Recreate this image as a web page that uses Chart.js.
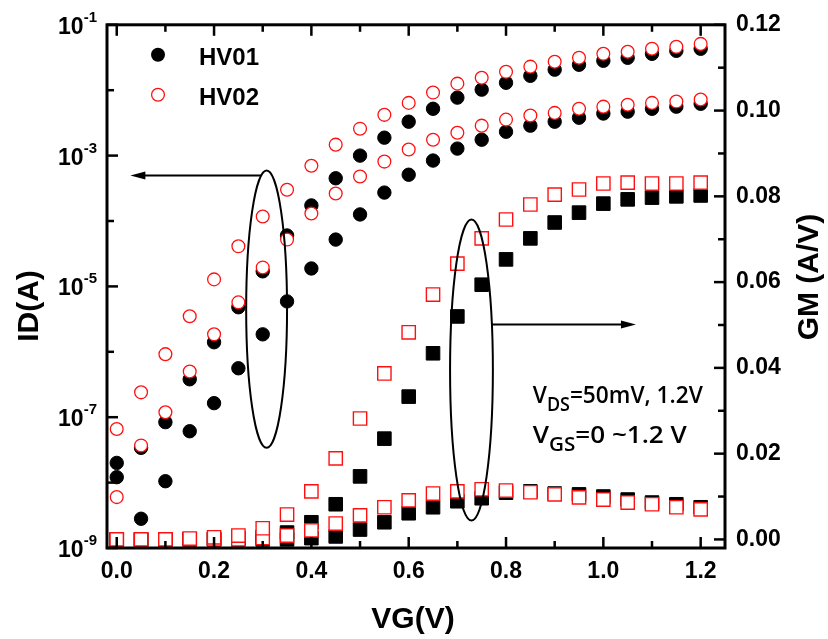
<!DOCTYPE html>
<html>
  <head>
    <title>ID and GM vs VG</title>
    <script src="https://cdn.jsdelivr.net/npm/chart.js"></script>
    <style>
      body { margin: 0; background: #fff; }
      .chart-container { width: 828px; height: 639px; }
    </style>
  </head>
  <body>
    <div class="chart-container">
      <canvas id="myChart"></canvas>
    </div>

    <script>
      // gate voltage sweep
      const vg = [0, 0.05, 0.1, 0.15, 0.2, 0.25, 0.3, 0.35, 0.4, 0.45, 0.5, 0.55, 0.6,
        0.65, 0.7, 0.75, 0.8, 0.85, 0.9, 0.95, 1.0, 1.05, 1.1, 1.15, 1.2];

      // drain current (A), VDS = 1.2V and 50mV
      const idHV01hi = [2.0e-8, 3.4e-8, 8.4e-8, 3.8e-7, 1.4e-6, 4.8e-6, 1.7e-5, 6.0e-5, 1.73e-4,
        4.5e-4, 1.0e-3, 1.88e-3, 3.3e-3, 5.2e-3, 7.7e-3, 1.02e-2, 1.30e-2, 1.66e-2, 2.06e-2,
        2.45e-2, 2.82e-2, 3.13e-2, 3.6e-2, 4.0e-2, 4.3e-2];
      const idHV02hi = [6.6e-8, 2.4e-7, 9.2e-7, 3.5e-6, 1.28e-5, 4.1e-5, 1.17e-4, 3.0e-4, 7.0e-4,
        1.47e-3, 2.58e-3, 4.2e-3, 6.4e-3, 9.2e-3, 1.26e-2, 1.55e-2, 1.91e-2, 2.29e-2, 2.72e-2,
        3.13e-2, 3.6e-2, 3.87e-2, 4.3e-2, 4.6e-2, 5.1e-2];
      const idHV01lo = [1.21e-8, 2.8e-9, 1.05e-8, 6.1e-8, 1.64e-7, 5.6e-7, 1.85e-6, 5.9e-6, 1.88e-5,
        5.2e-5, 1.26e-4, 2.72e-4, 5.1e-4, 8.4e-4, 1.28e-3, 1.75e-3, 2.32e-3, 2.87e-3, 3.3e-3,
        3.8e-3, 4.4e-3, 4.7e-3, 5.2e-3, 5.6e-3, 6.2e-3];
      const idHV02lo = [6.0e-9, 3.7e-8, 1.19e-7, 5.0e-7, 1.85e-6, 5.7e-6, 1.95e-5, 5.2e-5, 1.30e-4,
        2.63e-4, 4.8e-4, 8.1e-4, 1.24e-3, 1.75e-3, 2.24e-3, 2.87e-3, 3.55e-3, 4.1e-3, 4.5e-3,
        5.2e-3, 5.6e-3, 6.0e-3, 6.4e-3, 6.7e-3, 7.2e-3];

      // transconductance (A/V)
      const gmHV01hi = [0, 0, 0, 0, 0.0001, 0.0003, 0.0006, 0.0016, 0.0040, 0.0082, 0.0147, 0.0235,
        0.0333, 0.0434, 0.0520, 0.0594, 0.0653, 0.0702, 0.0739, 0.0762, 0.0783, 0.0793, 0.0797,
        0.0800, 0.0802];
      const gmHV02hi = [0, 0, 0, 0.0002, 0.0005, 0.0009, 0.0026, 0.0058, 0.0112, 0.0189, 0.0282,
        0.0387, 0.0483, 0.0571, 0.0643, 0.0702, 0.0746, 0.0781, 0.0804, 0.0816, 0.0830, 0.0832,
        0.0830, 0.0830, 0.0832];
      const gmHV01lo = [0, 0, 0, 0, 0, 0, 0, 0, 0.0003, 0.0007, 0.0023, 0.0040, 0.0061, 0.0075,
        0.0089, 0.0096, 0.0109, 0.0112, 0.0107, 0.0105, 0.0100, 0.0093, 0.0086, 0.0082, 0.0075];
      const gmHV02lo = [0, 0, 0, 0, 0, 0, 0.0003, 0.0009, 0.0021, 0.0037, 0.0056, 0.0075, 0.0091,
        0.0107, 0.0112, 0.0117, 0.0114, 0.0110, 0.0105, 0.0098, 0.0093, 0.0086, 0.0082, 0.0075,
        0.0070];

      const legendNames = ["HV01", "HV02"];
      const xTicks = [0, 0.2, 0.4, 0.6, 0.8, 1.0, 1.2];
      const xMinor = [0.1, 0.3, 0.5, 0.7, 0.9, 1.1];
      const idTickExp = [-9, -7, -5, -3, -1];
      const idMinorExp = [-8, -6, -4, -2];
      const gmTicks = [0, 0.02, 0.04, 0.06, 0.08, 0.1, 0.12];
      const gmMinor = [0.01, 0.03, 0.05, 0.07, 0.09, 0.11];

      const RED = "#ff1010";
      const bold = (s) => "bold " + s + 'px "Liberation Sans", Arial, sans-serif';
      const noteFont = (s) => "600 " + s + 'px "Open Sans", sans-serif';

      function pts(ys) {
        return vg.map((x, i) => ({ x: x, y: ys[i] }));
      }

      function redCircle(ys) {
        return { data: pts(ys), yAxisID: "yL", pointStyle: "circle", pointRadius: 6.4,
          pointBackgroundColor: "#fff", pointBorderColor: RED, pointBorderWidth: 1.3 };
      }
      function blackCircle(ys) {
        return { data: pts(ys), yAxisID: "yL", pointStyle: "circle", pointRadius: 6.7,
          pointBackgroundColor: "#000", pointBorderColor: "#000", pointBorderWidth: 1 };
      }
      function redSquare(ys) {
        return { data: pts(ys), yAxisID: "yR", pointStyle: "rect", pointRadius: 9.4,
          pointBackgroundColor: "#fff", pointBorderColor: RED, pointBorderWidth: 1.4 };
      }
      function blackSquare(ys) {
        return { data: pts(ys), yAxisID: "yR", pointStyle: "rect", pointRadius: 9.6,
          pointBackgroundColor: "#000", pointBorderColor: "#000", pointBorderWidth: 1 };
      }

      // first dataset ends up on top, so red goes first
      const datasets = [
        redCircle(idHV02hi), redCircle(idHV02lo), redSquare(gmHV02hi), redSquare(gmHV02lo),
        blackCircle(idHV01hi), blackCircle(idHV01lo), blackSquare(gmHV01hi), blackSquare(gmHV01lo),
      ];

      function drawSubText(ctx, x, y, parts, width) {
        const measure = () => {
          let w = 0;
          parts.forEach(([t, sub]) => {
            ctx.font = sub ? noteFont(19) : noteFont(24);
            w += ctx.measureText(t).width;
          });
          return w;
        };
        ctx.save();
        const sx = width / measure();
        ctx.translate(x, y);
        ctx.scale(sx, 1);
        ctx.textAlign = "left";
        ctx.textBaseline = "alphabetic";
        ctx.fillStyle = "#000";
        let cx = 0;
        parts.forEach(([t, sub]) => {
          ctx.font = sub ? noteFont(19) : noteFont(24);
          ctx.fillText(t, cx, sub ? 8 : 0);
          cx += ctx.measureText(t).width;
        });
        ctx.restore();
      }

      function ellipse(ctx, xs, ys, x0, x1, y0, y1) {
        const l = xs.getPixelForValue(x0), r = xs.getPixelForValue(x1);
        const t = ys.getPixelForValue(y0), b = ys.getPixelForValue(y1);
        const e = { cx: (l + r) / 2, cy: (t + b) / 2, rx: (r - l) / 2, ry: (b - t) / 2 };
        ctx.beginPath();
        ctx.ellipse(e.cx, e.cy, e.rx, e.ry, 0, 0, Math.PI * 2);
        ctx.stroke();
        return e;
      }

      function arrow(ctx, e, py, tipX) {
        const dy = (py - e.cy) / e.ry;
        const off = e.rx * Math.sqrt(Math.max(0, 1 - dy * dy));
        const dir = tipX < e.cx ? -1 : 1;
        const sx = e.cx + dir * off;
        ctx.beginPath();
        ctx.moveTo(sx, py);
        ctx.lineTo(tipX - dir * 12, py);
        ctx.stroke();
        ctx.beginPath();
        ctx.moveTo(tipX, py);
        ctx.lineTo(tipX - dir * 15, py - 4);
        ctx.lineTo(tipX - dir * 15, py + 4);
        ctx.closePath();
        ctx.fill();
      }

      const overlay = {
        id: "overlay",
        afterDatasetsDraw(chart) {
          const { ctx, chartArea: a } = chart;
          const x = chart.scales.x, yL = chart.scales.yL, yR = chart.scales.yR;
          ctx.save();
          ctx.strokeStyle = "#000";
          ctx.fillStyle = "#000";

          // frame
          ctx.lineWidth = 3;
          ctx.strokeRect(a.left, a.top, a.right - a.left, a.bottom - a.top);

          // inward ticks
          ctx.lineWidth = 2.5;
          const seg = (x1, y1, x2, y2) => {
            ctx.beginPath(); ctx.moveTo(x1, y1); ctx.lineTo(x2, y2); ctx.stroke();
          };
          xTicks.forEach((v) => {
            const p = x.getPixelForValue(v);
            seg(p, a.bottom, p, a.bottom - 11); seg(p, a.top, p, a.top + 11);
          });
          xMinor.forEach((v) => {
            const p = x.getPixelForValue(v);
            seg(p, a.bottom, p, a.bottom - 7); seg(p, a.top, p, a.top + 7);
          });
          idTickExp.forEach((e) => {
            const p = yL.getPixelForValue(Math.pow(10, e));
            seg(a.left, p, a.left + 11, p);
          });
          idMinorExp.forEach((e) => {
            const p = yL.getPixelForValue(Math.pow(10, e));
            seg(a.left, p, a.left + 7, p);
          });
          gmTicks.forEach((v) => {
            const p = yR.getPixelForValue(v);
            seg(a.right, p, a.right - 11, p);
          });
          gmMinor.forEach((v) => {
            const p = yR.getPixelForValue(v);
            seg(a.right, p, a.right - 7, p);
          });

          // left tick labels 10^n
          idTickExp.forEach((e) => {
            const p = yL.getPixelForValue(Math.pow(10, e));
            ctx.font = bold(15);
            const ex = String(e);
            const we = ctx.measureText(ex).width;
            ctx.font = bold(23);
            const wb = ctx.measureText("10").width;
            const right = a.left - 10;
            ctx.textAlign = "left";
            ctx.textBaseline = "alphabetic";
            ctx.fillText("10", right - we - wb, p + 9);
            ctx.font = bold(15);
            ctx.fillText(ex, right - we, p - 3);
          });

          // axis titles
          ctx.font = bold(30);
          ctx.textAlign = "center";
          ctx.textBaseline = "alphabetic";
          ctx.fillText("VG(V)", 413, 628);
          ctx.save();
          ctx.translate(38, 306);
          ctx.rotate(-Math.PI / 2);
          ctx.fillText("ID(A)", 0, 0);
          ctx.restore();
          ctx.save();
          ctx.translate(818, 277);
          ctx.rotate(-Math.PI / 2);
          ctx.fillText("GM (A/V)", 0, 0);
          ctx.restore();

          // legend
          legendNames.forEach((name, i) => {
            const cx = a.left + 51, cy = a.top + 30 + i * 40;
            ctx.beginPath();
            if (i === 0) {
              ctx.arc(cx, cy, 7, 0, Math.PI * 2);
              ctx.fillStyle = "#000";
              ctx.fill();
            } else {
              ctx.arc(cx, cy, 6.4, 0, Math.PI * 2);
              ctx.lineWidth = 1.3;
              ctx.strokeStyle = RED;
              ctx.stroke();
            }
            ctx.fillStyle = "#000";
            ctx.strokeStyle = "#000";
            ctx.font = bold(24);
            ctx.textAlign = "left";
            ctx.fillText(name, a.left + 92, cy + 10);
          });

          // ellipses with arrows
          ctx.lineWidth = 2;
          const eL = ellipse(ctx, x, yL, 0.266, 0.350, 5.9e-4, 3.4e-8);
          arrow(ctx, eL, yL.getPixelForValue(4.95e-4), x.getPixelForValue(0.028));
          const eR = ellipse(ctx, x, yR, 0.685, 0.773, 0.0746, 0.0044);
          arrow(ctx, eR, yR.getPixelForValue(0.0501), x.getPixelForValue(1.067));

          // bias conditions
          const tx = x.getPixelForValue(0.855);
          drawSubText(ctx, tx, yR.getPixelForValue(0.0317),
            [["V", 0], ["DS", 1], ["=50mV, 1.2V", 0]], 170);
          drawSubText(ctx, tx, yR.getPixelForValue(0.0226),
            [["V", 0], ["GS", 1], ["=0 ~1.2 V", 0]], 154);
          ctx.restore();
        },
      };

      const myChart = new Chart(document.getElementById("myChart"), {
        type: "scatter",
        data: { datasets: datasets },
        options: {
          responsive: true,
          maintainAspectRatio: false,
          animation: false,
          events: [],
          layout: { padding: { top: 24, left: 0, right: 0, bottom: 0 } },
          plugins: { legend: { display: false }, tooltip: { enabled: false } },
          scales: {
            x: {
              type: "linear",
              min: -0.02,
              max: 1.25,
              afterBuildTicks: (s) => { s.ticks = xTicks.map((v) => ({ value: v })); },
              afterFit: (s) => { s.height = 91; },
              grid: { display: false, drawTicks: false },
              border: { display: false },
              ticks: {
                color: "#000",
                font: { family: '"Liberation Sans", Arial', size: 23, weight: "bold" },
                padding: 10,
                autoSkip: false,
                maxRotation: 0,
                callback: (v) => Number(v).toFixed(1),
              },
            },
            yL: {
              type: "logarithmic",
              position: "left",
              min: 1e-9,
              max: 1e-1,
              afterFit: (s) => { s.width = 107; },
              grid: { display: false, drawTicks: false },
              border: { display: false },
              ticks: { display: false },
            },
            yR: {
              type: "linear",
              position: "right",
              min: -0.002,
              max: 0.12,
              afterBuildTicks: (s) => { s.ticks = gmTicks.map((v) => ({ value: v })); },
              afterFit: (s) => { s.width = 103; },
              grid: { display: false, drawTicks: false },
              border: { display: false },
              ticks: {
                color: "#000",
                font: { family: '"Liberation Sans", Arial', size: 23, weight: "bold" },
                padding: 11,
                autoSkip: false,
                callback: (v) => Number(v).toFixed(2),
              },
            },
          },
        },
        plugins: [overlay],
      });
    </script>
  </body>
</html>
